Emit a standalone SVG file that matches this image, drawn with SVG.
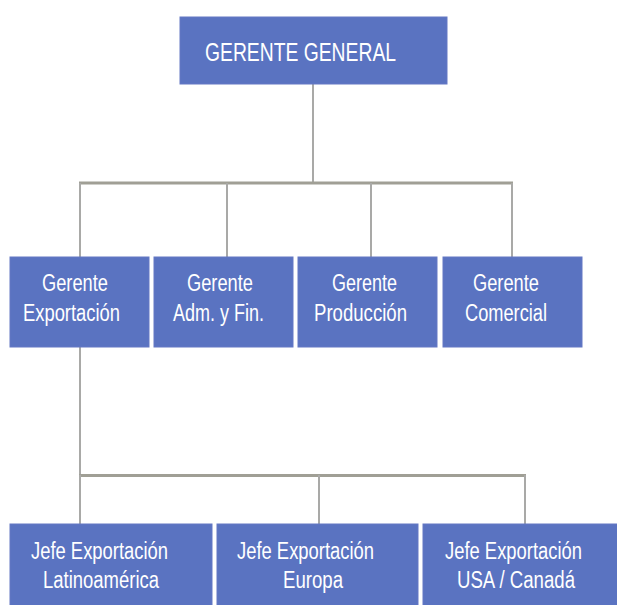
<svg xmlns="http://www.w3.org/2000/svg" width="617" height="605" viewBox="0 0 617 605">
<style>
.box{fill:#5a73c1;stroke:#6479c4;stroke-width:1}
.t{font-family:"Liberation Sans",Arial,sans-serif;font-size:23px;fill:#ffffff}
.tt{font-family:"Liberation Sans",Arial,sans-serif;font-size:25px;fill:#ffffff}
.v{stroke:#a9a9a7;stroke-width:2;fill:none}
.h{stroke:#a09f95;stroke-width:3;fill:none}
</style>
<rect width="617" height="605" fill="#ffffff"/>
<g id="connectors">
<line class="v" x1="313" y1="84" x2="313" y2="183"/>
<line class="h" x1="79" y1="183" x2="513" y2="183"/>
<line class="v" x1="80" y1="183" x2="80" y2="257"/>
<line class="v" x1="227" y1="183" x2="227" y2="257"/>
<line class="v" x1="371" y1="183" x2="371" y2="257"/>
<line class="v" x1="512" y1="183" x2="512" y2="257"/>
<line class="v" x1="80" y1="347" x2="80" y2="475"/>
<line class="h" x1="79" y1="475.5" x2="526" y2="475.5"/>
<line class="v" x1="80" y1="475" x2="80" y2="524"/>
<line class="v" x1="319" y1="475" x2="319" y2="524"/>
<line class="v" x1="525" y1="475" x2="525" y2="524"/>
</g>
<g id="gerente-general">
<rect class="box" x="180" y="17" width="267" height="67"/>
<text class="tt" x="205" y="61" textLength="191" lengthAdjust="spacingAndGlyphs">GERENTE GENERAL</text>
</g>
<g id="gerente-exportacion">
<rect class="box" x="10" y="257" width="139" height="90"/>
<text class="t" x="42" y="290.5" textLength="66" lengthAdjust="spacingAndGlyphs">Gerente</text>
<text class="t" x="23" y="320.5" textLength="97" lengthAdjust="spacingAndGlyphs">Exportación</text>
</g>
<g id="gerente-adm">
<rect class="box" x="154" y="257" width="139" height="90"/>
<text class="t" x="187" y="290.5" textLength="66" lengthAdjust="spacingAndGlyphs">Gerente</text>
<text class="t" x="173" y="320.5" textLength="91" lengthAdjust="spacingAndGlyphs">Adm. y Fin.</text>
</g>
<g id="gerente-produccion">
<rect class="box" x="298" y="257" width="139" height="90"/>
<text class="t" x="332" y="290.5" textLength="65" lengthAdjust="spacingAndGlyphs">Gerente</text>
<text class="t" x="314" y="320.5" textLength="93" lengthAdjust="spacingAndGlyphs">Producción</text>
</g>
<g id="gerente-comercial">
<rect class="box" x="443" y="257" width="139" height="90"/>
<text class="t" x="473" y="290.5" textLength="66" lengthAdjust="spacingAndGlyphs">Gerente</text>
<text class="t" x="465" y="320.5" textLength="82" lengthAdjust="spacingAndGlyphs">Comercial</text>
</g>
<g id="jefe-latam">
<rect class="box" x="10" y="524" width="202" height="82"/>
<text class="t" x="31" y="559" textLength="137" lengthAdjust="spacingAndGlyphs">Jefe Exportación</text>
<text class="t" x="43" y="588" textLength="116" lengthAdjust="spacingAndGlyphs">Latinoamérica</text>
</g>
<g id="jefe-europa">
<rect class="box" x="217" y="524" width="201" height="82"/>
<text class="t" x="237" y="559" textLength="137" lengthAdjust="spacingAndGlyphs">Jefe Exportación</text>
<text class="t" x="283" y="588" textLength="60" lengthAdjust="spacingAndGlyphs">Europa</text>
</g>
<g id="jefe-usa">
<rect class="box" x="423" y="524" width="195" height="82"/>
<text class="t" x="445" y="559" textLength="137" lengthAdjust="spacingAndGlyphs">Jefe Exportación</text>
<text class="t" x="457" y="588" textLength="118" lengthAdjust="spacingAndGlyphs">USA / Canadá</text>
</g>
</svg>
